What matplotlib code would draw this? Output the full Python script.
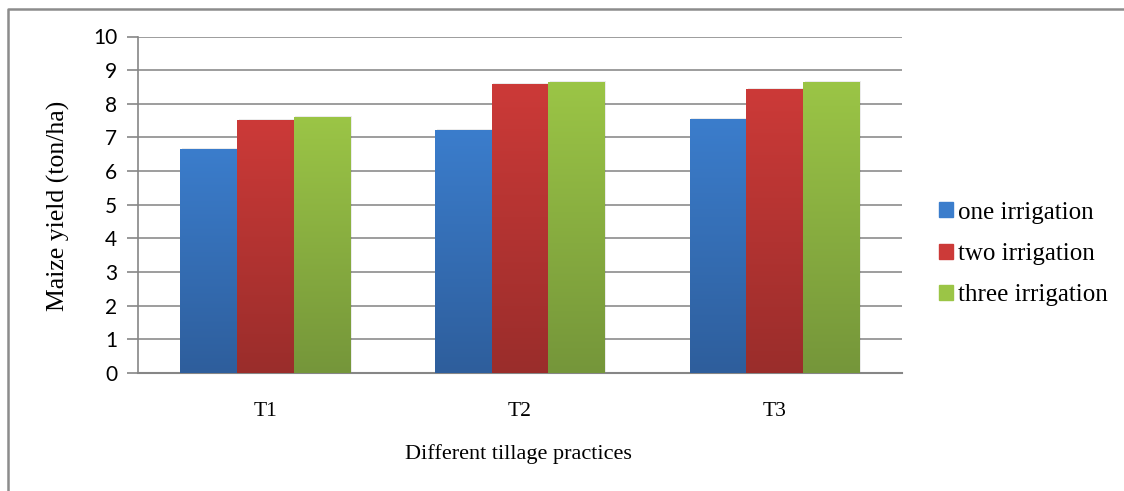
import numpy as np
import matplotlib
matplotlib.use("Agg")
import matplotlib.pyplot as plt
from matplotlib.colors import LinearSegmentedColormap
from matplotlib.patches import Rectangle
from matplotlib.lines import Line2D

categories = ["T1", "T2", "T3"]
series_names = ["one irrigation", "two irrigation", "three irrigation"]
one_irrigation = [6.65, 7.21, 7.54]
two_irrigation = [7.51, 8.58, 8.43]
three_irrigation = [7.60, 8.64, 8.66]
yticks = list(range(0, 11))

series = [one_irrigation, two_irrigation, three_irrigation]
top_colors = ["#3B7DCC", "#CC3A38", "#9BC546"]
bottom_colors = ["#2E5E9C", "#9A2D2B", "#75963A"]

W, H = 1124, 491
fig = plt.figure(figsize=(W / 100, H / 100), dpi=100)
ax = fig.add_axes([138 / W, 1 - 373 / H, (902 - 138) / W, (373 - 36.5) / H])

n = len(series)
group_w = 0.667
bar_w = group_w / n
x = np.arange(len(categories))

for i, (vals, c_top, c_bot) in enumerate(zip(series, top_colors, bottom_colors)):
    offs = x - group_w / 2 + bar_w * (i + 0.5)
    bars = ax.bar(offs, vals, width=bar_w, color=c_top, label=series_names[i], zorder=3)
    cmap = LinearSegmentedColormap.from_list(f"g{i}", [c_bot, c_top])
    grad = np.linspace(0, 1, 256).reshape(-1, 1)
    for b in bars:
        bx, by = b.get_x(), b.get_y()
        bw, bh = b.get_width(), b.get_height()
        # soft drop shadow
        ax.add_patch(Rectangle((bx + 0.006, by), bw, bh + 0.03, color="#000000",
                               alpha=0.08, lw=0, zorder=2.5))
        im = ax.imshow(grad, extent=[bx, bx + bw, by, by + bh], origin="lower",
                       cmap=cmap, aspect="auto", zorder=3.5)
        im.set_clip_path(b)
        b.set_facecolor("none")

ax.set_xlim(-0.5, len(categories) - 0.5)
ax.set_ylim(0, 10)
ax.set_yticks(yticks)
ax.set_xticks(x)
ax.set_xticklabels(categories, fontfamily="Liberation Serif", fontsize=15.5)
ax.tick_params(axis="x", length=0, pad=21)
ax.tick_params(axis="y", length=8, width=1.2, color="#868686", pad=7, labelsize=15)
for lbl in ax.get_yticklabels():
    lbl.set_fontfamily("Lato")

ax.yaxis.grid(True, color="#8C8C8C", lw=1.2, zorder=0)
ax.set_axisbelow(True)
for s in ["top", "right"]:
    ax.spines[s].set_visible(False)
ax.spines["left"].set_color("#868686")
ax.spines["left"].set_linewidth(1.2)
ax.spines["bottom"].set_color("#868686")
ax.spines["bottom"].set_linewidth(1.5)

fig.text(58 / W, 1 - 206 / H, "Maize yield (ton/ha)", rotation=90, ha="center", va="center",
         fontfamily="Liberation Serif", fontsize=18.5)
fig.text(518 / W, 1 - 454 / H, "Different tillage practices", ha="center", va="center",
         fontfamily="Liberation Serif", fontsize=16)

handles = [Rectangle((0, 0), 1, 1, color=c) for c in top_colors]
fig.legend(handles, series_names, loc="center left", bbox_to_anchor=(916 / W, 1 - 254 / H),
           frameon=False, prop={"family": "Liberation Serif", "size": 18},
           handlelength=0.56, handleheight=0.56, handletextpad=0.22, labelspacing=0.78)

# chart-area border (left and top edges)
fig.add_artist(Line2D([8 / W, 8 / W, 1.0], [0.0, 1 - 8.5 / H, 1 - 8.5 / H],
                      transform=fig.transFigure, color="#8C8C8C", lw=1.8))

fig.savefig("out.png", dpi=100)
